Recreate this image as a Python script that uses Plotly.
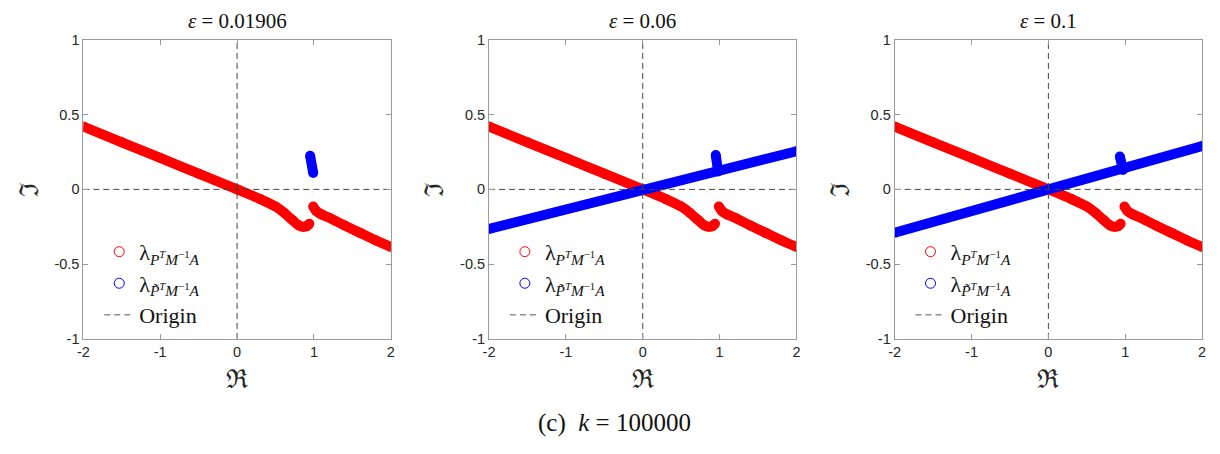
import plotly.graph_objects as go

# ---------------- data ----------------
titles = ["0.01906", "0.06", "0.1"]
caption_k = "100000"

x_ticks = [-2, -1, 0, 1, 2]
x_tick_labels = ["-2", "-1", "0", "1", "2"]
y_ticks = [-1, -0.5, 0, 0.5, 1]
y_tick_labels = ["-1", "-0.5", "0", "0.5", "1"]

# red eigenvalues (same in the three panels), two branches
red1_re = [-2.0, -1.5, -1.0, -0.5, 0.0, 0.3, 0.5, 0.62, 0.72, 0.8, 0.86, 0.91, 0.94]
red1_im = [0.42, 0.315, 0.21, 0.105, 0.0, -0.065, -0.115, -0.16, -0.205, -0.24, -0.25, -0.245, -0.23]
red2_re = [0.99, 1.03, 1.1, 1.2, 1.4, 1.6, 1.8, 2.0]
red2_im = [-0.115, -0.145, -0.168, -0.19, -0.242, -0.291, -0.34, -0.385]

# blue eigenvalues per panel
blue_main_re = [None, [-2.0, 2.0], [-2.0, 2.0]]
blue_main_im = [None, [-0.265, 0.255], [-0.29, 0.29]]
blue_tick_re = [[0.95, 0.99], [0.95, 0.98], [0.93, 0.97]]
blue_tick_im = [[0.225, 0.11], [0.23, 0.12], [0.22, 0.13]]

origin_re = [-2, 2, None, 0, 0]
origin_im = [0, 0, None, -1, 1]

RED = "#ff0000"
BLUE = "#0000ff"
W, H = 1220, 454
SERIF = "Liberation Serif"
SANS = "Liberation Sans"

x_dom_px = [(78, 388), (487, 797), (896, 1206)]
y_top_px, y_bot_px = 33, 343

fig = go.Figure()
layout = {}

band = 10
for i in range(3):
    xa = "x" if i == 0 else f"x{i+1}"
    ya = "y" if i == 0 else f"y{i+1}"
    lg = "legend" if i == 0 else f"legend{i+1}"

    for re, im in [(red1_re, red1_im), (red2_re, red2_im)]:
        fig.add_trace(go.Scatter(x=re, y=im, mode="lines+markers",
                                 line=dict(color=RED, width=band, shape="spline", smoothing=0.6),
                                 marker=dict(color=RED, size=band),
                                 xaxis=xa, yaxis=ya, showlegend=False, hoverinfo="skip"))
    if blue_main_re[i] is not None:
        fig.add_trace(go.Scatter(x=blue_main_re[i], y=blue_main_im[i], mode="lines+markers",
                                 line=dict(color=BLUE, width=band),
                                 marker=dict(color=BLUE, size=band),
                                 xaxis=xa, yaxis=ya, showlegend=False, hoverinfo="skip"))
    fig.add_trace(go.Scatter(x=blue_tick_re[i], y=blue_tick_im[i], mode="lines+markers",
                             line=dict(color=BLUE, width=band),
                             marker=dict(color=BLUE, size=band),
                             xaxis=xa, yaxis=ya, showlegend=False, hoverinfo="skip"))
    # origin dashed lines
    fig.add_trace(go.Scatter(x=origin_re, y=origin_im, mode="lines",
                             line=dict(color="#444444", width=1, dash="6px,4px"),
                             xaxis=xa, yaxis=ya, showlegend=False, hoverinfo="skip"))
    # legend entries
    fig.add_trace(go.Scatter(x=[None], y=[None], mode="markers",
                             marker=dict(symbol="circle-open", color=RED, size=10, line=dict(width=1)),
                             name="λ<sub><i>P</i><sup><i>T</i></sup><i>M</i><sup>−1</sup><i>A</i></sub>",
                             xaxis=xa, yaxis=ya, legend=lg))
    fig.add_trace(go.Scatter(x=[None], y=[None], mode="markers",
                             marker=dict(symbol="circle-open", color=BLUE, size=10, line=dict(width=1)),
                             name="λ<sub><i>P̃</i><sup><i>T</i></sup><i>M</i><sup>−1</sup><i>A</i></sub>",
                             xaxis=xa, yaxis=ya, legend=lg))
    fig.add_trace(go.Scatter(x=[None], y=[None], mode="lines",
                             line=dict(color="#555555", width=1, dash="6px,4px"),
                             name="Origin", xaxis=xa, yaxis=ya, legend=lg))

    x0, x1 = x_dom_px[i]
    axis_common = dict(showgrid=False, zeroline=False, showline=True, linecolor="#9a9a9a",
                       linewidth=1, mirror="allticks", ticks="inside", ticklen=5,
                       tickcolor="#9a9a9a", tickfont=dict(family=SANS, size=14.5, color="#262626"))
    layout["xaxis" if i == 0 else f"xaxis{i+1}"] = dict(
        domain=[x0 / W, x1 / W], range=[-2, 2], tickvals=x_ticks, ticktext=x_tick_labels,
        anchor=ya, title=dict(text="ℜ", font=dict(family=SERIF, size=26, color="#262626"), standoff=10),
        **axis_common)
    layout["yaxis" if i == 0 else f"yaxis{i+1}"] = dict(
        domain=[(H - y_bot_px) / H, (H - y_top_px) / H], range=[-1, 1], tickvals=y_ticks,
        ticktext=y_tick_labels, anchor=xa,
        title=dict(text="ℑ", font=dict(family=SERIF, size=26, color="#262626"), standoff=8),
        **axis_common)
    layout[lg] = dict(x=(x0 + 16) / W, y=(H - 231) / H, xanchor="left", yanchor="top",
                      bgcolor="rgba(0,0,0,0)", borderwidth=0,
                      font=dict(family=SERIF, size=22, color="#111111"),
                      tracegroupgap=0, itemwidth=30)

annotations = []
for i in range(3):
    x0, x1 = x_dom_px[i]
    annotations.append(dict(text="<i>ε</i> = " + titles[i], x=(x0 + x1) / 2 / W, y=(H - 13) / H,
                            xref="paper", yref="paper", showarrow=False, xanchor="center",
                            yanchor="middle", font=dict(family=SERIF, size=21, color="#111111")))
annotations.append(dict(text="(c)  <i>k</i> = " + caption_k, x=614 / W, y=(H - 430) / H,
                        xref="paper", yref="paper", showarrow=False, xanchor="center",
                        yanchor="middle", font=dict(family=SERIF, size=25, color="#111111")))

fig.update_layout(width=W, height=H, margin=dict(l=0, r=0, t=0, b=0),
                  paper_bgcolor="white", plot_bgcolor="white",
                  annotations=annotations, **layout)

fig.write_html("out.html")
